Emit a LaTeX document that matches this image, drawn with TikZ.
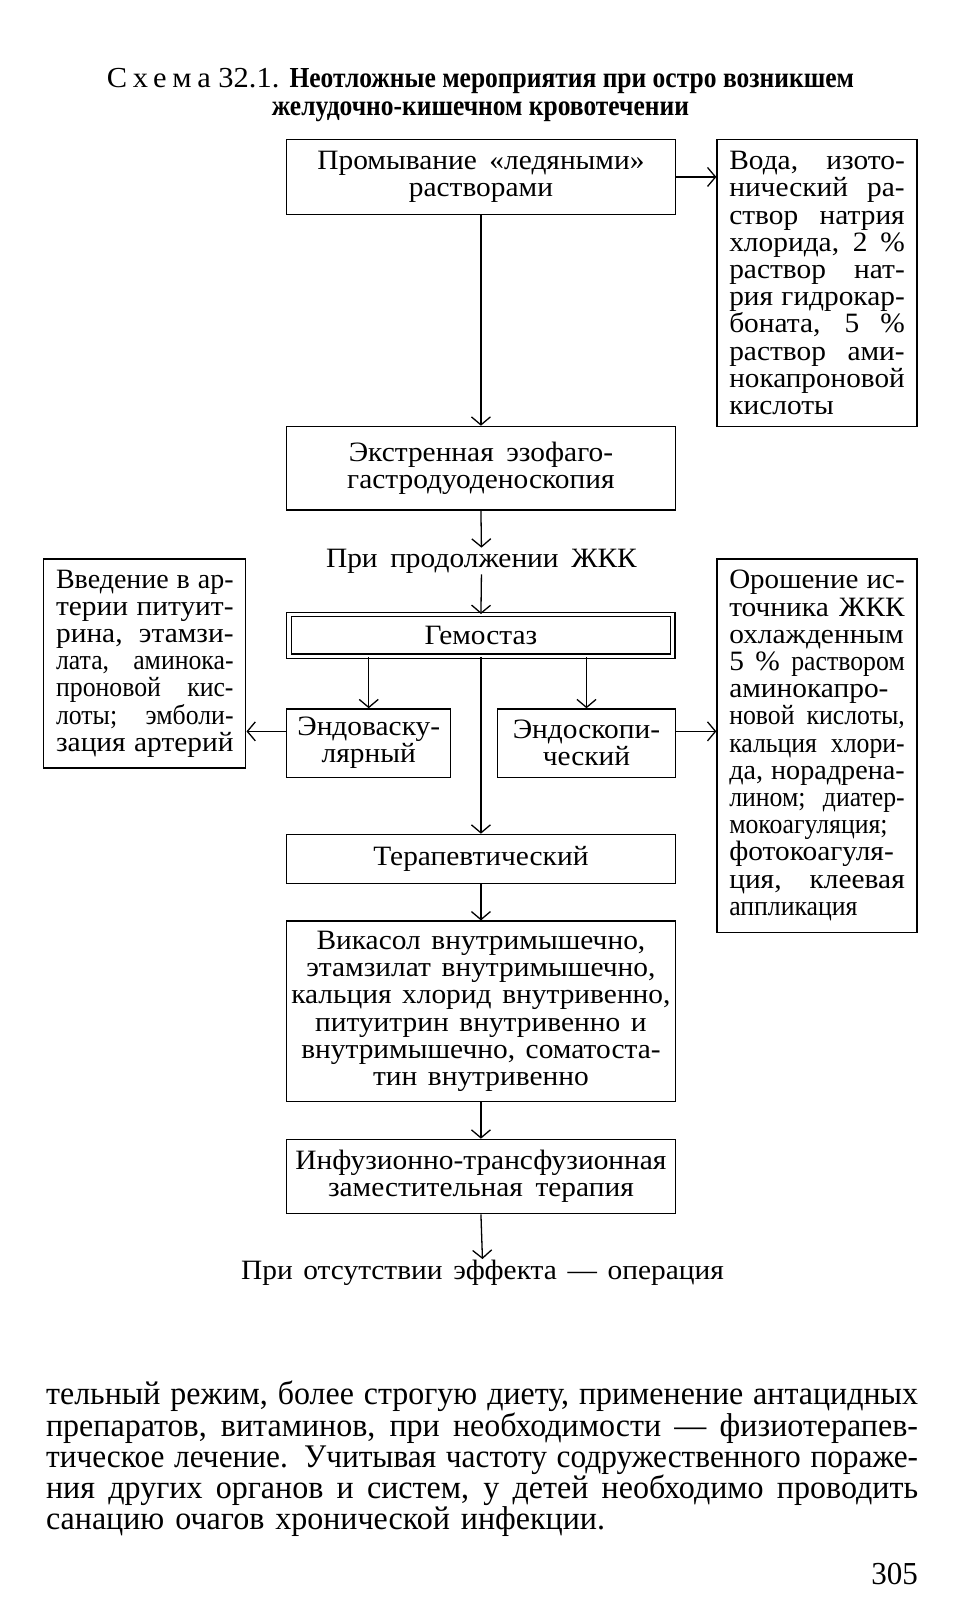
\documentclass[tikz,border=0pt]{standalone}
\usepackage{fontspec}
\usepackage{graphicx}
\setmainfont{Liberation Serif}[FakeStretch=1.05]
\newfontfamily\condfont[FakeStretch=0.92]{Liberation Serif}
\newfontfamily\titlefont[FakeStretch=0.88]{Liberation Serif}
\newfontfamily\bodyfont[FakeStretch=0.97]{Liberation Serif}
\usetikzlibrary{arrows.meta}
\newsavebox\jlbox
\newcommand\jl[2]{\sbox\jlbox{\spaceskip=.3em\relax #2}\ifdim\wd\jlbox>#1\relax\resizebox{#1}{\height}{\usebox\jlbox}\else\makebox[#1][s]{\spaceskip=.3em plus 1fil\xspaceskip=.3em plus 1fil\relax #2}\fi}
\newcommand\wl[1]{\hbox{\spaceskip=.45em\xspaceskip=.45em\relax #1}}
\newcommand\wm[1]{\hbox{\spaceskip=.38em\xspaceskip=.38em\relax #1}}
\newcommand\fs{\fontsize{28}{27.2}\selectfont}
\begin{document}
\begin{tikzpicture}[x=1.02pt,y=-1.02pt,
  box/.style={draw, line width=1.3pt, inner sep=0pt, align=center, font=\fs},
  narrowbox/.style={box, align=left, text width=#1},
  plain/.style={inner sep=1pt, font=\fs},
  arr/.style={line width=1.3pt, -{Straight Barb[length=8pt,width=19pt,line width=1.3pt]}},
  ]
\fill[white] (0,0) rectangle (953.92,1568.63);
\useasboundingbox (0,0) rectangle (953.92,1568.63);

% title
\node[align=center, font=\fontsize{29}{27.5}\selectfont] (title) at (471,93)
  {{\addfontfeature{LetterSpace=20}Схема} 32.1. {\titlefont\bfseries Неотложные мероприятия при остро возникшем}\\
   {\titlefont\bfseries желудочно-кишечном кровотечении}};

% boxes
\node[box, minimum width=388.6pt, minimum height=74.5pt] (wash) at (471.5,173.5)
  {\wl{Промывание «ледяными»}\\растворами};
\node[narrowbox=175.5pt, minimum width=200pt, minimum height=286.6pt] (water) at (801,277.5)
  {\jl{175.5pt}{Вода, изото-}\\
   \jl{175.5pt}{нический ра-}\\
   \jl{175.5pt}{створ натрия}\\
   \jl{175.5pt}{хлорида, 2~\%}\\
   \jl{175.5pt}{раствор нат-}\\
   \jl{175.5pt}{рия гидрокар-}\\
   \jl{175.5pt}{боната, 5~\%}\\
   \jl{175.5pt}{раствор ами-}\\
   \jl{175.5pt}{нокапроновой}\\
   кислоты};
\node[box, minimum width=388.6pt, minimum height=83.6pt] (egds) at (471.5,459)
  {\wl{Экстренная эзофаго-}\\гастродуоденоскопия};
\node[plain] (cont) at (472,550) {\wl{При продолжении ЖКК}};
\node[box, double, double distance=3.6pt, line width=1.1pt, minimum width=383.5pt, minimum height=41.8pt] (hemo) at (471.5,623)
  {Гемостаз};
\node[box, minimum width=164.2pt, minimum height=68.3pt] (endv) at (361.5,728.5)
  {Эндоваску-\\лярный};
\node[box, minimum width=177.5pt, minimum height=68.3pt] (endo) at (575,728.5)
  {Эндоскопи-\\ческий};
\node[narrowbox=177.5pt, minimum width=202pt, minimum height=209.1pt] (inject) at (142,650.5)
  {\jl{177.5pt}{Введение в ар-}\\
   \jl{177.5pt}{терии питуит-}\\
   \jl{177.5pt}{рина, этамзи-}\\
   \jl{177.5pt}{\condfont лата, аминока-}\\
   \jl{177.5pt}{\condfont проновой кис-}\\
   \jl{177.5pt}{\condfont лоты; эмболи-}\\
   \jl{177.5pt}{зация артерий}};
\node[narrowbox=175.5pt, minimum width=200pt, minimum height=373.3pt] (irrig) at (801,731)
  {\jl{175.5pt}{Орошение ис-}\\
   \jl{175.5pt}{точника ЖКК}\\
   \jl{175.5pt}{охлажденным}\\
   \jl{175.5pt}{5~\% {\condfont раствором}}\\
   \jl{175.5pt}{аминокапро-}\\
   \jl{175.5pt}{\condfont новой кислоты,}\\
   \jl{175.5pt}{\condfont кальция хлори-}\\
   \jl{175.5pt}{да, норадрена-}\\
   \jl{175.5pt}{\condfont лином; диатер-}\\
   \jl{175.5pt}{\condfont мокоагуляция;}\\
   \jl{175.5pt}{фотокоагуля-}\\
   \jl{175.5pt}{ция, клеевая}\\
   {\condfont аппликация}};
\node[box, minimum width=388.6pt, minimum height=49pt] (ther) at (471.5,842)
  {Терапевтический};
\node[box, minimum width=388.6pt, minimum height=180.5pt] (drugs) at (471.5,991.5)
  {\wm{Викасол внутримышечно,}\\
   \wm{этамзилат внутримышечно,}\\
   \wm{кальция хлорид внутривенно,}\\
   \wm{питуитрин внутривенно и}\\
   \wm{внутримышечно, соматоста-}\\
   \wm{тин внутривенно}};
\node[box, minimum width=388.6pt, minimum height=74.5pt] (infus) at (471.5,1153.5)
  {Инфузионно-трансфузионная\\\wl{заместительная терапия}};
\node[plain] (oper) at (473,1248) {\wm{При отсутствии эффекта — операция}};

% connectors
\draw[arr] (wash.east) -- (wash.east -| water.west);
\draw[arr] (wash.south) -- (egds.north);
\draw[arr] (egds.south) -- (cont.north);
\draw[arr] (cont.south) -- (hemo.north);
\draw[arr] (endv.north |- hemo.south) -- (endv.north);
\draw[arr] (endo.north |- hemo.south) -- (endo.north);
\draw[arr] (hemo.south) -- (ther.north);
\draw[arr] ([yshift=11.7pt]endv.west) -- ([yshift=11.7pt]endv.west -| inject.east);
\draw[arr] ([yshift=11.7pt]endo.east) -- ([yshift=11.7pt]endo.east -| irrig.west);
\draw[arr] (ther.south) -- (drugs.north);
\draw[arr] (drugs.south) -- (infus.north);
\draw[arr] (infus.south) -- (oper.north);

% body text
\node[anchor=north west, inner sep=0pt, align=left, text width=872pt,
      font=\bodyfont\fontsize{33}{31.1}\selectfont] (body) at (45,1354)
  {\jl{872pt}{тельный режим, более строгую диету, применение антацидных}\\
   \jl{872pt}{препаратов, витаминов, при необходимости — физиотерапев-}\\
   \jl{872pt}{тическое лечение. Учитывая частоту содружественного пораже-}\\
   \jl{872pt}{ния других органов и систем, у детей необходимо проводить}\\
   санацию очагов хронической инфекции.};
\node[anchor=east, inner sep=0pt, font=\bodyfont\fontsize{32}{30}\selectfont] (page) at (900,1543) {305};
\end{tikzpicture}
\end{document}
